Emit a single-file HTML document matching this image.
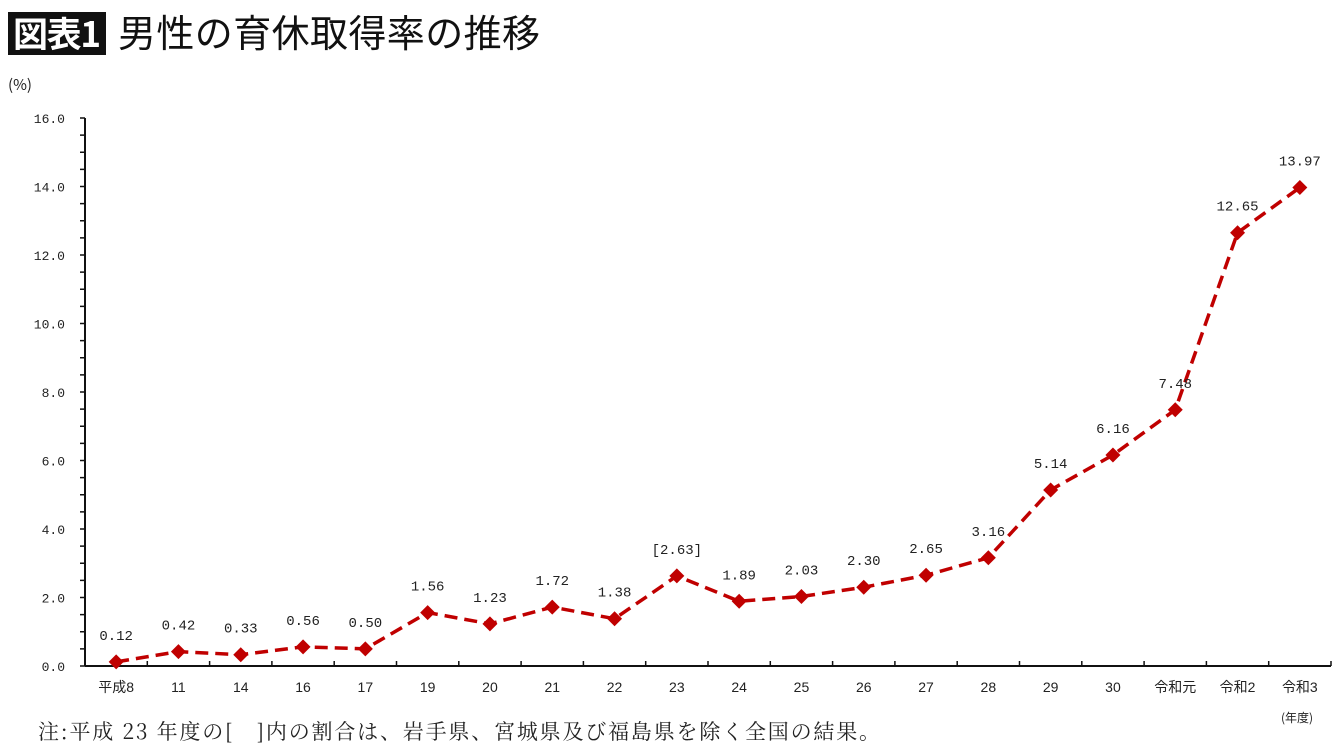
<!DOCTYPE html>
<html><head><meta charset="utf-8"><style>
body{margin:0;width:1340px;height:750px;background:#fff;overflow:hidden;font-family:"Liberation Sans","Noto Sans CJK JP",sans-serif;}
svg{position:absolute;left:0;top:0}
</style></head><body>
<svg id="c" width="1340" height="750">
<rect x="8" y="12" width="98" height="43" fill="#111"/>
<text x="57" y="47" fill="#fff" font-size="35" font-weight="bold" text-anchor="middle" textLength="88" font-family="Noto Sans CJK JP, sans-serif">図表1</text>
<text x="118" y="47" fill="#111" font-size="38" textLength="422" font-family="Noto Sans CJK JP, sans-serif">男性の育休取得率の推移</text>
<text x="8" y="90" font-size="15" fill="#222" font-family="Noto Sans CJK JP, sans-serif">(%)</text>
<text x="38" y="739" font-size="21" fill="#222" textLength="842" font-family="Noto Serif CJK SC, serif">注:平成 23 年度の[　]内の割合は、岩手県、宮城県及び福島県を除く全国の結果。</text>
<text x="1297" y="722" font-size="12" fill="#222" text-anchor="middle" font-family="Noto Sans CJK JP, sans-serif">(年度)</text>
<g id="g"></g>
</svg>
<script>
const categories=["平成8","11","14","16","17","19","20","21","22","23","24","25","26","27","28","29","30","令和元","令和2","令和3"];
const values=[0.12,0.42,0.33,0.56,0.50,1.56,1.23,1.72,1.38,2.63,1.89,2.03,2.30,2.65,3.16,5.14,6.16,7.48,12.65,13.97];
const valueLabels=["0.12","0.42","0.33","0.56","0.50","1.56","1.23","1.72","1.38","[2.63]","1.89","2.03","2.30","2.65","3.16","5.14","6.16","7.48","12.65","13.97"];
const yTicks=["0.0","2.0","4.0","6.0","8.0","10.0","12.0","14.0","16.0"];
const X0=85,X1=1331,Y0=666,Y1=118,YMAX=16;
const n=categories.length,step=(X1-X0)/n;
const xs=i=>X0+step*(i+0.5);
const ys=v=>Y0-(v/YMAX)*(Y0-Y1);
const g=document.getElementById('g');
const NS="http://www.w3.org/2000/svg";
function mk(t,a){const e=document.createElementNS(NS,t);for(const k in a)e.setAttribute(k,a[k]);g.appendChild(e);return e;}
let e=mk('line',{x1:X0,y1:Y1,x2:X0,y2:Y0,stroke:'#111','stroke-width':2});


e=mk('line',{x1:X0,y1:Y0,x2:X1,y2:Y0,stroke:'#111','stroke-width':2});


for(let v=0;v<=YMAX;v+=0.5){const y=ys(v);e=mk('line',{x1:X0-5,y1:y,x2:X0,y2:y,stroke:'#111','stroke-width':1.5});

}
yTicks.forEach(t=>{const v=parseFloat(t);e=mk('text',{x:65,y:ys(v)+5,'font-size':13,'text-anchor':'end',fill:'#222','font-family':'Liberation Mono, monospace'});e.textContent=t;

});
for(let i=1;i<=n;i++){const x=X0+step*i;e=mk('line',{x1:x,y1:Y0-5,x2:x,y2:Y0,stroke:'#111','stroke-width':1.5});

}
categories.forEach((c,i)=>{e=mk('text',{x:xs(i),y:692,'font-size':14,'text-anchor':'middle',fill:'#222','font-family':'Liberation Sans, Noto Sans CJK JP, sans-serif'});e.textContent=c;

});
e=mk('polyline',{points:values.map((v,i)=>xs(i)+','+ys(v)).join(' '),fill:'none',stroke:'#c00000','stroke-width':3.5,'stroke-dasharray':'13,7'});


values.forEach((v,i)=>{const x=xs(i),y=ys(v);
e=mk('polygon',{points:`${x},${y-7.5} ${x+7.5},${y} ${x},${y+7.5} ${x-7.5},${y}`,fill:'#c00000'});


e=mk('text',{x:x,y:y-22,'font-size':14,'text-anchor':'middle',fill:'#222','font-family':'Liberation Mono, monospace'});e.textContent=valueLabels[i];

});
</script>
</body></html>
